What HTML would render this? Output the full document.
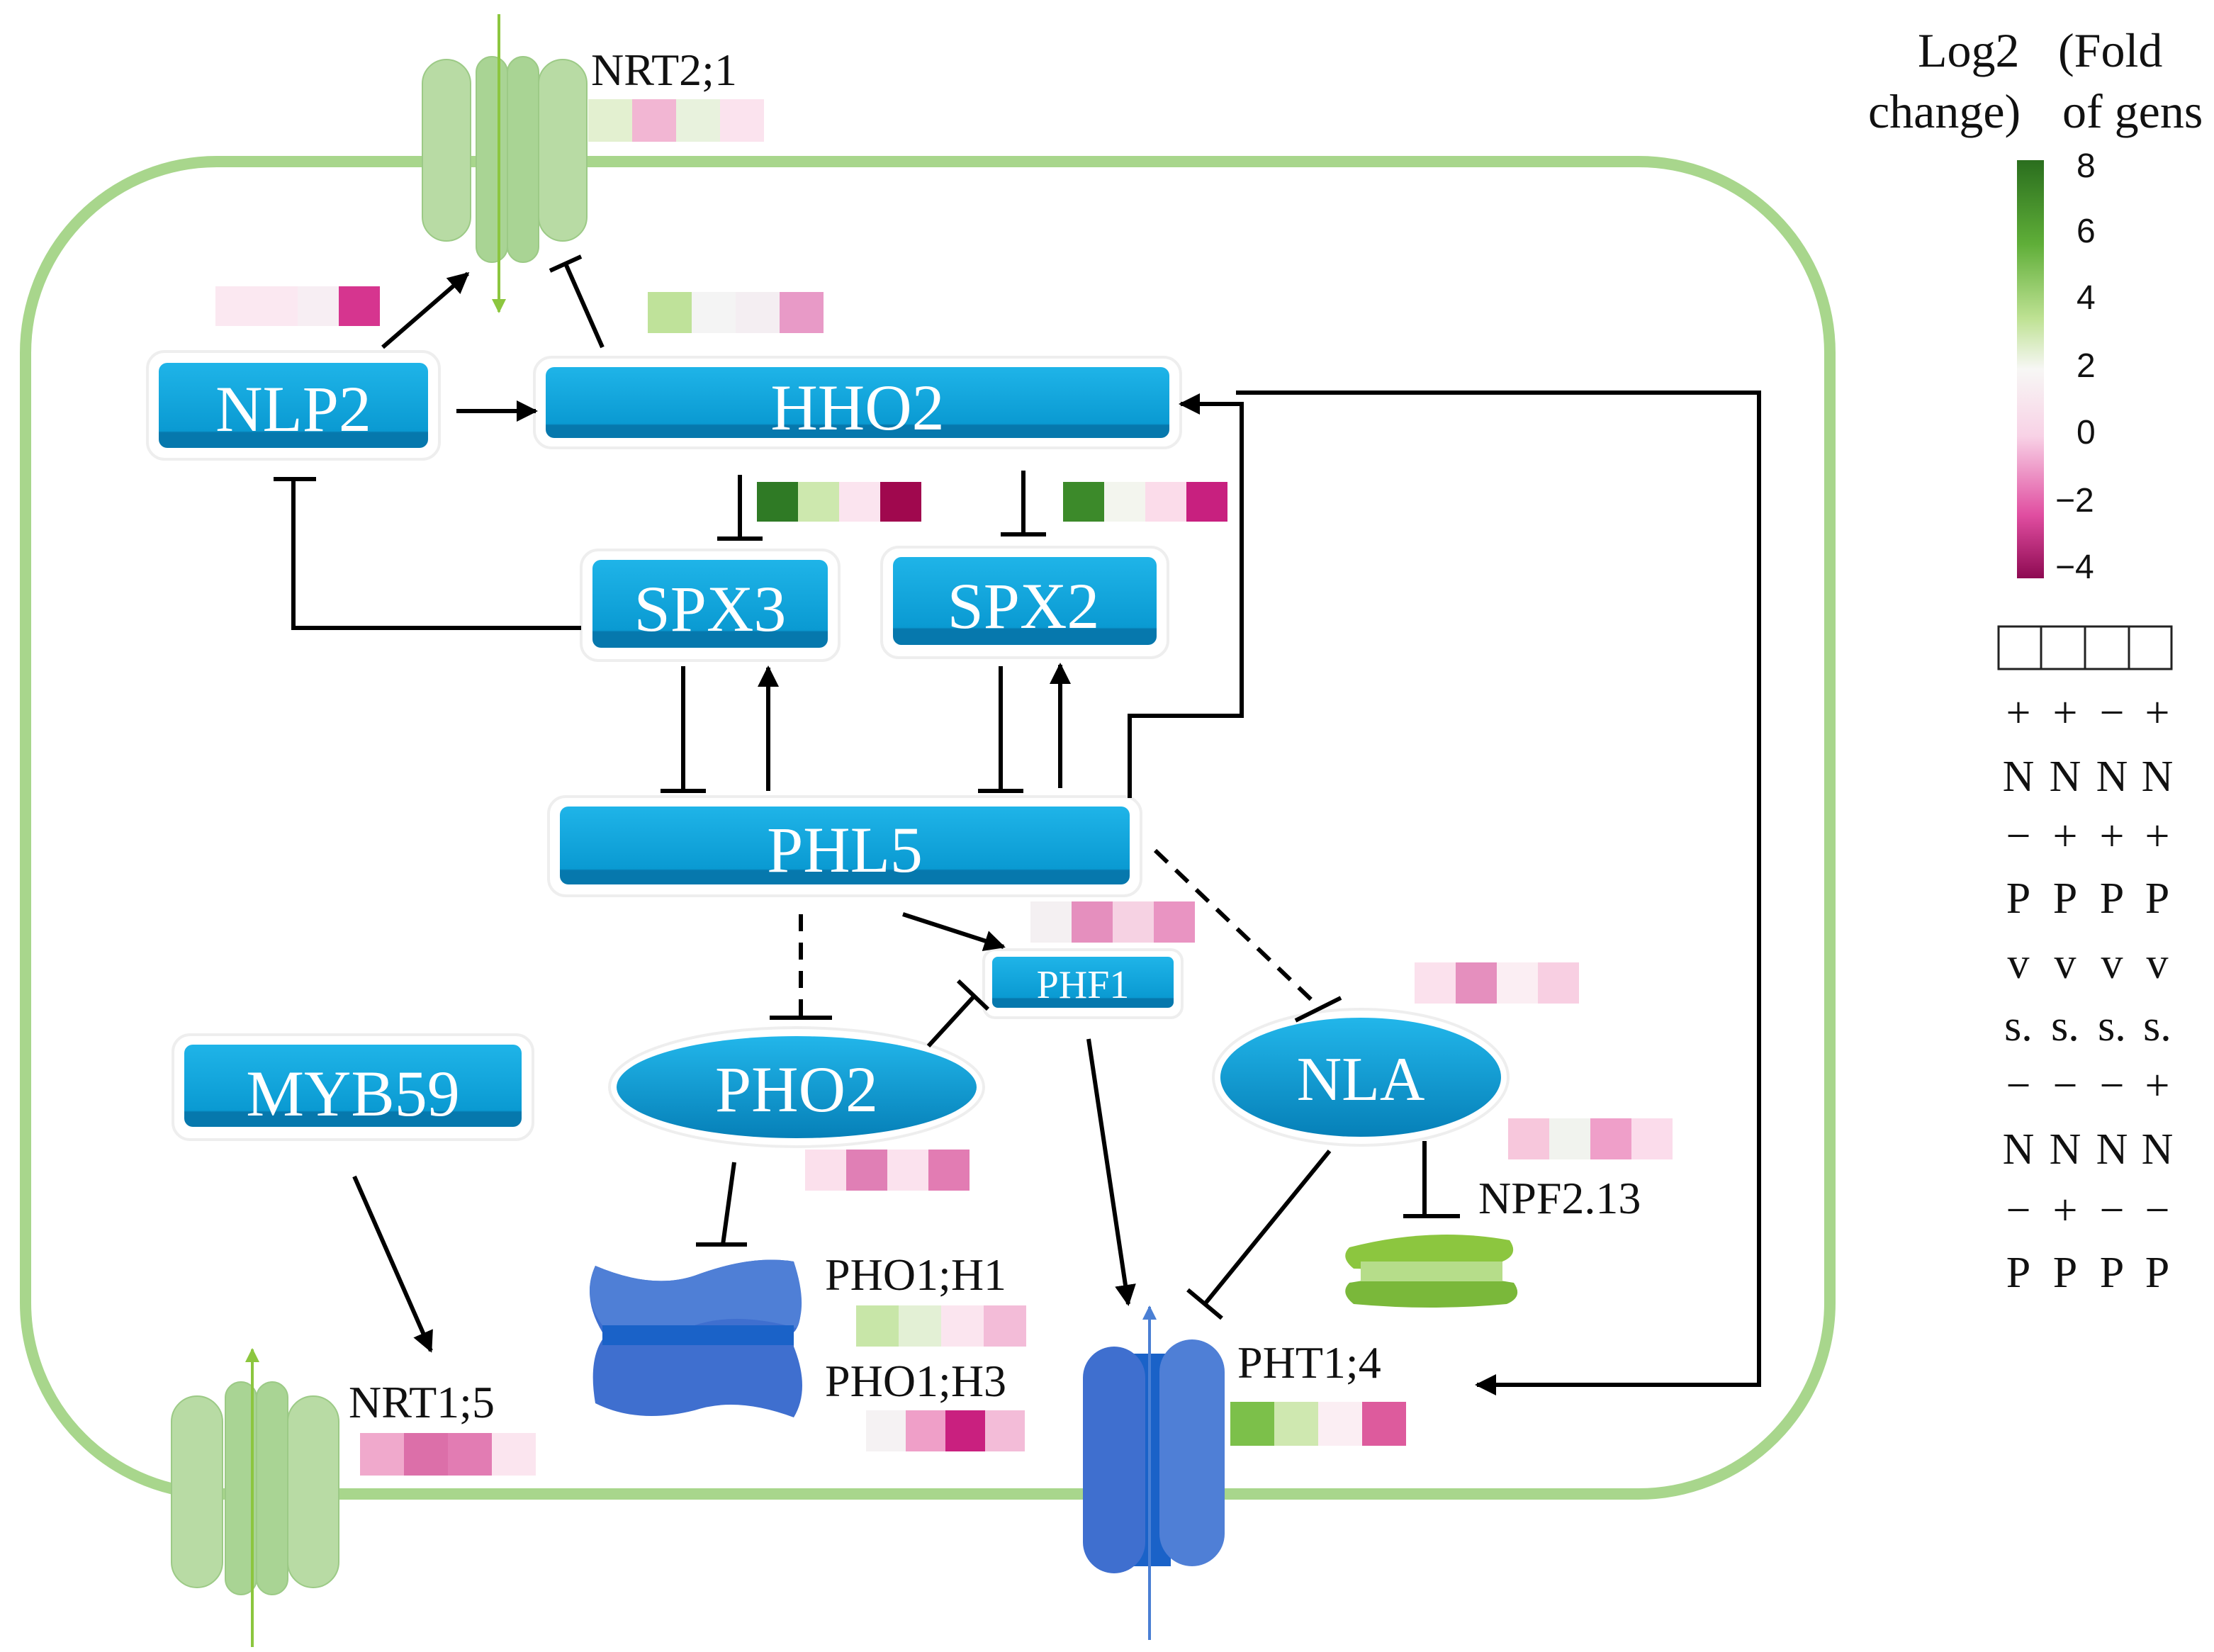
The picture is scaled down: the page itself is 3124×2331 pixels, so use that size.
<!DOCTYPE html>
<html><head><meta charset="utf-8"><style>
html,body{margin:0;padding:0;background:#fff;}
svg{display:block;}
.t{font-family:"Liberation Serif",serif;}
.bt{font-family:"Liberation Serif",serif;fill:#fff;}
.s{font-family:"Liberation Sans",sans-serif;}
</style></head><body>
<svg width="3124" height="2331" viewBox="0 0 1562 1165.5" xmlns="http://www.w3.org/2000/svg">
<defs>
<marker id="a" viewBox="0 0 10 10" refX="9" refY="5" markerWidth="5" markerHeight="5" orient="auto-start-reverse"><path d="M0,0 L10,5 L0,10 z" fill="#000"/></marker>
<marker id="ag" viewBox="0 0 10 10" refX="9" refY="5" markerWidth="5" markerHeight="6" orient="auto"><path d="M0,0 L10,5 L0,10 z" fill="#8cc63f"/></marker>
<marker id="ab" viewBox="0 0 10 10" refX="9" refY="5" markerWidth="5" markerHeight="6" orient="auto"><path d="M0,0 L10,5 L0,10 z" fill="#4a7fd4"/></marker>
<linearGradient id="cb" x1="0" y1="0" x2="0" y2="1">
<stop offset="0" stop-color="#2a6e1e"/><stop offset="0.2" stop-color="#5fae38"/><stop offset="0.38" stop-color="#bfe294"/><stop offset="0.5" stop-color="#f7f7f5"/><stop offset="0.66" stop-color="#f8d2e6"/><stop offset="0.85" stop-color="#e04da0"/><stop offset="1" stop-color="#8e0a52"/></linearGradient>
<linearGradient id="bx" x1="0" y1="0" x2="0" y2="1"><stop offset="0" stop-color="#1fb4e8"/><stop offset="0.8" stop-color="#0a9ad2"/><stop offset="0.82" stop-color="#0678ad"/><stop offset="1" stop-color="#0678ad"/></linearGradient>
<linearGradient id="el" x1="0" y1="0" x2="0" y2="1"><stop offset="0" stop-color="#22b6ea"/><stop offset="1" stop-color="#0680b8"/></linearGradient>
</defs>

<rect x="18" y="114" width="1273" height="940" rx="135" fill="none" stroke="#a8d68c" stroke-width="8"/>

<g fill="#b8dba4" stroke="#9cca86" stroke-width="1">
<rect x="298" y="42" width="34" height="128" rx="17"/>
<rect x="336" y="40" width="22" height="145" rx="11" fill="#a9d494"/>
<rect x="358" y="40" width="22" height="145" rx="11" fill="#a9d494"/>
<rect x="380" y="42" width="34" height="128" rx="17"/>
</g>
<line x1="352" y1="10" x2="352" y2="220" stroke="#8cc63f" stroke-width="2" marker-end="url(#ag)"/>

<g fill="#b8dba4" stroke="#9cca86" stroke-width="1">
<rect x="121" y="985" width="36" height="135" rx="18"/>
<rect x="159" y="975" width="22" height="150" rx="11" fill="#a9d494"/>
<rect x="181" y="975" width="22" height="150" rx="11" fill="#a9d494"/>
<rect x="203" y="985" width="36" height="135" rx="18"/>
</g>
<line x1="178" y1="1162" x2="178" y2="952" stroke="#8cc63f" stroke-width="2" marker-end="url(#ag)"/>

<path d="M420,893 Q460,910 490,900 Q530,885 560,890 Q570,930 560,940 L560,950 Q572,980 560,1000 Q520,985 490,995 Q450,1005 420,990 Q415,960 425,945 L425,940 Q410,915 420,893 z" fill="#3f6fcf"/>
<path d="M420,893 Q460,910 490,900 Q530,885 560,890 Q570,920 562,937 Q520,925 490,935 Q450,945 425,935 Q410,915 420,893z" fill="#4f7fd6"/>
<rect x="425" y="935" width="135" height="14" fill="#1a62c8"/>

<rect x="798" y="955" width="28" height="150" fill="#1a62c8"/>
<rect x="764" y="950" width="44" height="160" rx="22" fill="#3f6fcf"/>
<rect x="818" y="945" width="46" height="160" rx="23" fill="#4f7fd6"/>
<line x1="811" y1="1157" x2="811" y2="922" stroke="#4a7fd4" stroke-width="2" marker-end="url(#ab)"/>

<path d="M952,880 Q1010,865 1065,875 Q1072,885 1060,890 Q1010,897 955,895 Q945,887 952,880z" fill="#8cc63f"/>
<path d="M952,905 Q1010,895 1068,905 Q1075,915 1063,920 Q1010,925 955,920 Q945,912 952,905z" fill="#7ab83a"/>
<rect x="960" y="890" width="100" height="14" fill="#b6dd8a"/>

<g>
<rect x="104" y="248" width="206" height="76" rx="12" fill="#fff" stroke="#eee" stroke-width="2"/>
<rect x="112" y="256" width="190" height="60" rx="6" fill="url(#bx)"/>
<text x="207" y="304" text-anchor="middle" class="bt" font-size="46">NLP2</text>

<rect x="377" y="252" width="456" height="64" rx="12" fill="#fff" stroke="#eee" stroke-width="2"/>
<rect x="385" y="259" width="440" height="50" rx="6" fill="url(#bx)"/>
<text x="605" y="303" text-anchor="middle" class="bt" font-size="46">HHO2</text>

<rect x="410" y="388" width="182" height="78" rx="12" fill="#fff" stroke="#eee" stroke-width="2"/>
<rect x="418" y="395" width="166" height="62" rx="6" fill="url(#bx)"/>
<text x="501" y="445" text-anchor="middle" class="bt" font-size="46">SPX3</text>

<rect x="622" y="386" width="202" height="78" rx="12" fill="#fff" stroke="#eee" stroke-width="2"/>
<rect x="630" y="393" width="186" height="62" rx="6" fill="url(#bx)"/>
<text x="722" y="443" text-anchor="middle" class="bt" font-size="46">SPX2</text>

<rect x="387" y="562" width="418" height="70" rx="12" fill="#fff" stroke="#eee" stroke-width="2"/>
<rect x="395" y="569" width="402" height="55" rx="6" fill="url(#bx)"/>
<text x="596" y="615" text-anchor="middle" class="bt" font-size="46">PHL5</text>

<rect x="694" y="670" width="140" height="48" rx="8" fill="#fff" stroke="#eee" stroke-width="2"/>
<rect x="700" y="675" width="128" height="36" rx="4" fill="url(#bx)"/>
<text x="764" y="704" text-anchor="middle" class="bt" font-size="28">PHF1</text>

<rect x="122" y="730" width="254" height="74" rx="12" fill="#fff" stroke="#eee" stroke-width="2"/>
<rect x="130" y="737" width="238" height="58" rx="6" fill="url(#bx)"/>
<text x="249" y="787" text-anchor="middle" class="bt" font-size="46">MYB59</text>

<ellipse cx="562" cy="767" rx="132" ry="42" fill="#fff" stroke="#eee" stroke-width="2"/>
<ellipse cx="562" cy="767" rx="127" ry="36" fill="url(#el)"/>
<text x="562" y="784" text-anchor="middle" class="bt" font-size="46">PHO2</text>

<ellipse cx="960" cy="760" rx="104" ry="48" fill="#fff" stroke="#eee" stroke-width="2"/>
<ellipse cx="960" cy="760" rx="99" ry="42" fill="url(#el)"/>
<text x="960" y="776" text-anchor="middle" class="bt" font-size="44">NLA</text>
</g>

<g>
<rect x="152" y="202" width="29" height="28" fill="#fbe8f1"/><rect x="181" y="202" width="29" height="28" fill="#fbe8f1"/><rect x="210" y="202" width="29" height="28" fill="#f7eef3"/><rect x="239" y="202" width="29" height="28" fill="#d6358f"/>
<rect x="457" y="206" width="31" height="29" fill="#bfe29a"/><rect x="488" y="206" width="31" height="29" fill="#f4f4f4"/><rect x="519" y="206" width="31" height="29" fill="#f4eef2"/><rect x="550" y="206" width="31" height="29" fill="#e89ac7"/>
<rect x="534" y="340" width="29" height="28" fill="#2f7a25"/><rect x="563" y="340" width="29" height="28" fill="#cde8ae"/><rect x="592" y="340" width="29" height="28" fill="#fbe4ef"/><rect x="621" y="340" width="29" height="28" fill="#a0084e"/>
<rect x="750" y="340" width="29" height="28" fill="#3c8a2a"/><rect x="779" y="340" width="29" height="28" fill="#f3f5ee"/><rect x="808" y="340" width="29" height="28" fill="#fbdcea"/><rect x="837" y="340" width="29" height="28" fill="#c8207f"/>
<rect x="727" y="636" width="29" height="29" fill="#f4f0f2"/><rect x="756" y="636" width="29" height="29" fill="#e58fbe"/><rect x="785" y="636" width="29" height="29" fill="#f6d2e3"/><rect x="814" y="636" width="29" height="29" fill="#e994c2"/>
<rect x="998" y="679" width="29" height="29" fill="#fbe1ed"/><rect x="1027" y="679" width="29" height="29" fill="#e58fbe"/><rect x="1056" y="679" width="29" height="29" fill="#fbeef3"/><rect x="1085" y="679" width="29" height="29" fill="#f8cfe2"/>
<rect x="1064" y="789" width="29" height="29" fill="#f7c7dc"/><rect x="1093" y="789" width="29" height="29" fill="#f1f3ee"/><rect x="1122" y="789" width="29" height="29" fill="#ef9fc9"/><rect x="1151" y="789" width="29" height="29" fill="#fbdceb"/>
<rect x="568" y="811" width="29" height="29" fill="#fbe0ec"/><rect x="597" y="811" width="29" height="29" fill="#e07fb5"/><rect x="626" y="811" width="29" height="29" fill="#fbe2ee"/><rect x="655" y="811" width="29" height="29" fill="#e27cb3"/>
<rect x="604" y="921" width="30" height="29" fill="#c8e6a8"/><rect x="634" y="921" width="30" height="29" fill="#e3f0d5"/><rect x="664" y="921" width="30" height="29" fill="#fbe5ef"/><rect x="694" y="921" width="30" height="29" fill="#f3bcd8"/>
<rect x="611" y="995" width="28" height="29" fill="#f5f2f3"/><rect x="639" y="995" width="28" height="29" fill="#ef9fc8"/><rect x="667" y="995" width="28" height="29" fill="#c9207f"/><rect x="695" y="995" width="28" height="29" fill="#f3bcd8"/>
<rect x="254" y="1011" width="31" height="30" fill="#f0a9cc"/><rect x="285" y="1011" width="31" height="30" fill="#dc6fa9"/><rect x="316" y="1011" width="31" height="30" fill="#e27cb3"/><rect x="347" y="1011" width="31" height="30" fill="#fbe5ef"/>
<rect x="868" y="989" width="31" height="31" fill="#7cc04a"/><rect x="899" y="989" width="31" height="31" fill="#cfe8b0"/><rect x="930" y="989" width="31" height="31" fill="#fbeef3"/><rect x="961" y="989" width="31" height="31" fill="#dd5b9d"/>
<rect x="415" y="70" width="31" height="30" fill="#e3f0d0"/><rect x="446" y="70" width="31" height="30" fill="#f2b6d3"/><rect x="477" y="70" width="31" height="30" fill="#e8f2dd"/><rect x="508" y="70" width="31" height="30" fill="#fbe3ee"/>
</g>

<g class="t" font-size="32" fill="#111">
<text x="417" y="60">NRT2;1</text>
<text x="246" y="1000">NRT1;5</text>
<text x="582" y="910">PHO1;H1</text>
<text x="582" y="985">PHO1;H3</text>
<text x="873" y="972">PHT1;4</text>
<text x="1043" y="856">NPF2.13</text>
</g>

<g stroke="#000" stroke-width="3" fill="none">
<line x1="270" y1="245" x2="330" y2="193" marker-end="url(#a)"/>
<line x1="425" y1="245" x2="399" y2="186"/><line x1="388" y1="191" x2="410" y2="181"/>
<line x1="322" y1="290" x2="378" y2="290" marker-end="url(#a)"/>
<line x1="522" y1="335" x2="522" y2="380"/><line x1="506" y1="380" x2="538" y2="380"/>
<line x1="722" y1="332" x2="722" y2="377"/><line x1="706" y1="377" x2="738" y2="377"/>
<polyline points="410,443 207,443 207,338"/><line x1="193" y1="338" x2="223" y2="338"/>
<line x1="482" y1="470" x2="482" y2="558"/><line x1="466" y1="558" x2="498" y2="558"/>
<line x1="542" y1="558" x2="542" y2="471" marker-end="url(#a)"/>
<line x1="706" y1="470" x2="706" y2="558"/><line x1="690" y1="558" x2="722" y2="558"/>
<line x1="748" y1="556" x2="748" y2="469" marker-end="url(#a)"/>
<polyline points="797,563 797,505 876,505 876,285 833,285" marker-end="url(#a)"/>
<polyline points="872,277 1241,277 1241,977 1042,977" marker-end="url(#a)"/>
<line x1="565" y1="645" x2="565" y2="718" stroke-dasharray="12,8"/><line x1="543" y1="718" x2="587" y2="718"/>
<line x1="637" y1="645" x2="708" y2="668" marker-end="url(#a)"/>
<line x1="815" y1="600" x2="928" y2="708" stroke-dasharray="12,8"/><line x1="914" y1="720" x2="946" y2="704"/>
<line x1="655" y1="738" x2="688" y2="702"/><line x1="676" y1="692" x2="697" y2="712"/>
<line x1="768" y1="733" x2="796" y2="920" marker-end="url(#a)"/>
<line x1="938" y1="812" x2="850" y2="920"/><line x1="838" y1="910" x2="862" y2="930"/>
<line x1="1005" y1="805" x2="1005" y2="858"/><line x1="990" y1="858" x2="1030" y2="858"/>
<line x1="518" y1="820" x2="510" y2="878"/><line x1="491" y1="878" x2="527" y2="878"/>
<line x1="250" y1="830" x2="304" y2="953" marker-end="url(#a)"/>
</g>

<g class="t" font-size="34" fill="#111">
<text x="1353" y="47">Log2</text><text x="1452" y="47">(Fold</text>
<text x="1318" y="90">change)</text><text x="1455" y="90">of gens</text>
</g>
<rect x="1423" y="113" width="19" height="295" fill="url(#cb)"/>
<g class="s" font-size="24" fill="#111">
<text x="1465" y="125">8</text><text x="1465" y="171">6</text><text x="1465" y="218">4</text><text x="1465" y="266">2</text><text x="1465" y="313">0</text><text x="1450" y="361">−2</text><text x="1450" y="408">−4</text>
</g>
<g fill="none" stroke="#222" stroke-width="1.5">
<rect x="1410" y="442" width="122" height="30"/>
<line x1="1440" y1="442" x2="1440" y2="472"/><line x1="1471" y1="442" x2="1471" y2="472"/><line x1="1502" y1="442" x2="1502" y2="472"/>
</g>
<g class="t" font-size="31" fill="#111" text-anchor="middle">
<text x="1424" y="513">+</text><text x="1457" y="513">+</text><text x="1490" y="513">−</text><text x="1522" y="513">+</text>
<text x="1424" y="558">N</text><text x="1457" y="558">N</text><text x="1490" y="558">N</text><text x="1522" y="558">N</text>
<text x="1424" y="600">−</text><text x="1457" y="600">+</text><text x="1490" y="600">+</text><text x="1522" y="600">+</text>
<text x="1424" y="644">P</text><text x="1457" y="644">P</text><text x="1490" y="644">P</text><text x="1522" y="644">P</text>
<text x="1424" y="690">v</text><text x="1457" y="690">v</text><text x="1490" y="690">v</text><text x="1522" y="690">v</text>
<text x="1424" y="734">s.</text><text x="1457" y="734">s.</text><text x="1490" y="734">s.</text><text x="1522" y="734">s.</text>
<text x="1424" y="776">−</text><text x="1457" y="776">−</text><text x="1490" y="776">−</text><text x="1522" y="776">+</text>
<text x="1424" y="821">N</text><text x="1457" y="821">N</text><text x="1490" y="821">N</text><text x="1522" y="821">N</text>
<text x="1424" y="864">−</text><text x="1457" y="864">+</text><text x="1490" y="864">−</text><text x="1522" y="864">−</text>
<text x="1424" y="908">P</text><text x="1457" y="908">P</text><text x="1490" y="908">P</text><text x="1522" y="908">P</text>
</g>
</svg>
</body></html>
